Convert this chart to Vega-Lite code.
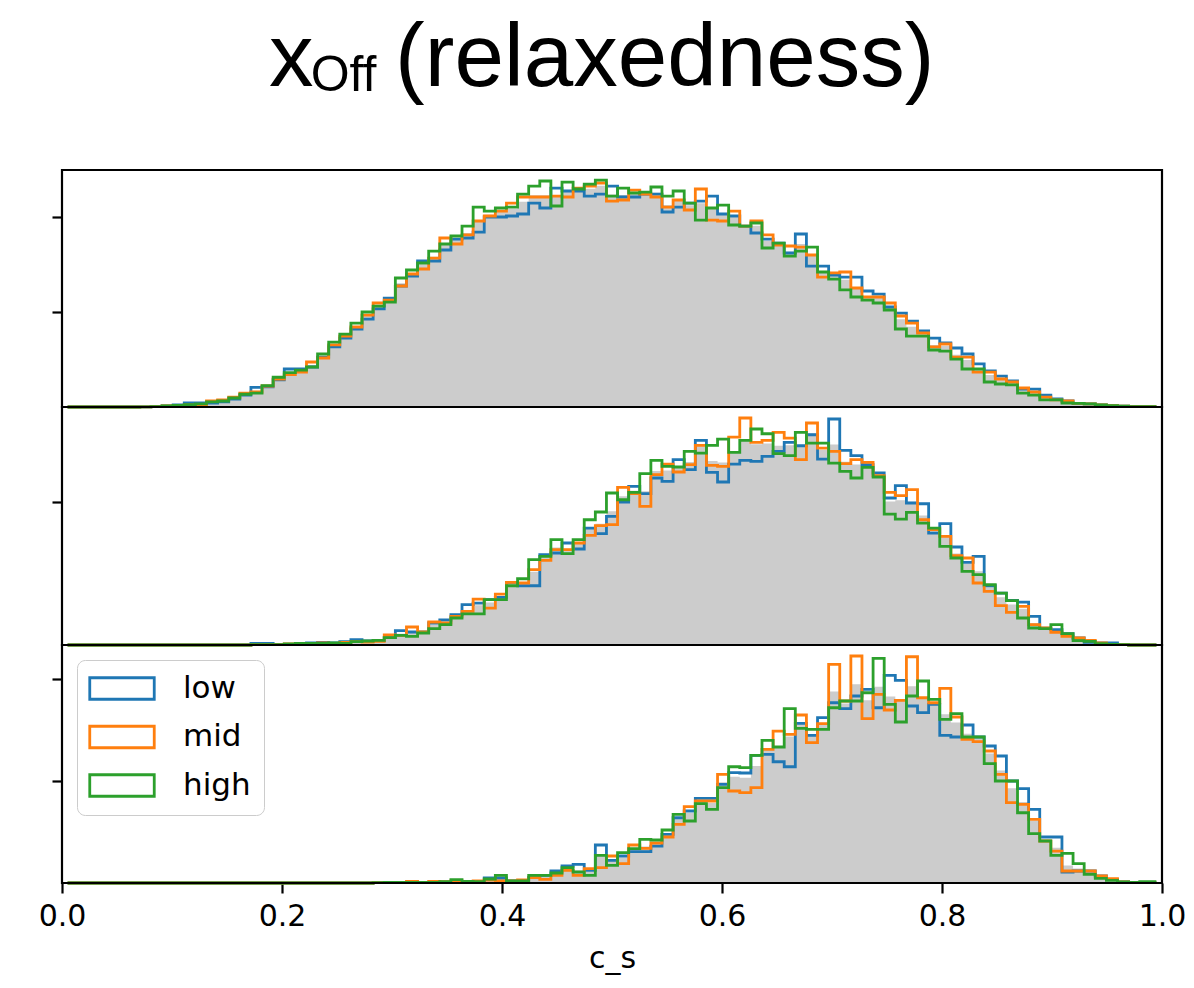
{
  "$schema": "https://vega.github.io/schema/vega-lite/v6.json",
  "padding": {"left": 37, "top": 14, "right": 5, "bottom": 5},
  "background": "white",
  "title": {
    "text": "x\u2002\u2004\u200a(relaxedness)",
    "subtitle": "\u200b\u2002\u2004Off",
    "anchor": "start",
    "frame": "group",
    "align": "left",
    "dx": 207,
    "offset": 64,
    "font": "Liberation Sans",
    "fontSize": 89,
    "fontWeight": "normal",
    "color": "black",
    "subtitleFont": "Liberation Sans",
    "subtitleFontSize": 50,
    "subtitleColor": "black",
    "subtitlePadding": -54
  },
  "datasets": {
    "top": [
      {"c_s":0.0051,"all":0,"low":0,"mid":0,"high":0},
      {"c_s":0.0152,"all":0,"low":0,"mid":0,"high":0},
      {"c_s":0.0253,"all":0,"low":0,"mid":0,"high":0},
      {"c_s":0.0354,"all":0,"low":0,"mid":0,"high":0},
      {"c_s":0.0455,"all":0,"low":0,"mid":0,"high":0},
      {"c_s":0.0556,"all":0,"low":0,"mid":0,"high":0},
      {"c_s":0.0657,"all":0,"low":0,"mid":0,"high":0},
      {"c_s":0.0758,"all":0.002,"low":0.002,"mid":0.002,"high":0.002},
      {"c_s":0.0859,"all":0.005,"low":0.005,"mid":0.005,"high":0.005},
      {"c_s":0.096,"all":0.011,"low":0.011,"mid":0.011,"high":0.011},
      {"c_s":0.1061,"all":0.018,"low":0.021,"mid":0.016,"high":0.016},
      {"c_s":0.1162,"all":0.03,"low":0.042,"mid":0.021,"high":0.026},
      {"c_s":0.1263,"all":0.033,"low":0.042,"mid":0.026,"high":0.032},
      {"c_s":0.1364,"all":0.053,"low":0.042,"mid":0.063,"high":0.053},
      {"c_s":0.1465,"all":0.063,"low":0.053,"mid":0.074,"high":0.063},
      {"c_s":0.1566,"all":0.095,"low":0.084,"mid":0.105,"high":0.095},
      {"c_s":0.1667,"all":0.136,"low":0.126,"mid":0.147,"high":0.134},
      {"c_s":0.1768,"all":0.171,"low":0.207,"mid":0.158,"high":0.147},
      {"c_s":0.1869,"all":0.219,"low":0.211,"mid":0.221,"high":0.224},
      {"c_s":0.197,"all":0.298,"low":0.287,"mid":0.295,"high":0.313},
      {"c_s":0.2071,"all":0.367,"low":0.4,"mid":0.34,"high":0.361},
      {"c_s":0.2172,"all":0.386,"low":0.4,"mid":0.368,"high":0.389},
      {"c_s":0.2273,"all":0.439,"low":0.421,"mid":0.474,"high":0.421},
      {"c_s":0.2374,"all":0.533,"low":0.526,"mid":0.516,"high":0.558},
      {"c_s":0.2475,"all":0.656,"low":0.632,"mid":0.653,"high":0.684},
      {"c_s":0.2576,"all":0.747,"low":0.726,"mid":0.747,"high":0.768},
      {"c_s":0.2677,"all":0.849,"low":0.821,"mid":0.842,"high":0.884},
      {"c_s":0.2778,"all":0.965,"low":0.926,"mid":0.968,"high":1.0},
      {"c_s":0.2879,"all":1.063,"low":1.032,"mid":1.095,"high":1.063},
      {"c_s":0.298,"all":1.126,"low":1.147,"mid":1.126,"high":1.105},
      {"c_s":0.3081,"all":1.302,"low":1.274,"mid":1.274,"high":1.358},
      {"c_s":0.3182,"all":1.407,"low":1.379,"mid":1.4,"high":1.442},
      {"c_s":0.3283,"all":1.502,"low":1.537,"mid":1.453,"high":1.516},
      {"c_s":0.3384,"all":1.582,"low":1.537,"mid":1.568,"high":1.642},
      {"c_s":0.3485,"all":1.716,"low":1.653,"mid":1.779,"high":1.716},
      {"c_s":0.3586,"all":1.761,"low":1.768,"mid":1.716,"high":1.8},
      {"c_s":0.3687,"all":1.832,"low":1.779,"mid":1.811,"high":1.905},
      {"c_s":0.3788,"all":1.968,"low":1.842,"mid":1.958,"high":2.105},
      {"c_s":0.3889,"all":2.025,"low":2.0,"mid":2.011,"high":2.063},
      {"c_s":0.399,"all":2.053,"low":2.0,"mid":2.063,"high":2.095},
      {"c_s":0.4091,"all":2.088,"low":2.011,"mid":2.147,"high":2.105},
      {"c_s":0.4192,"all":2.162,"low":2.032,"mid":2.211,"high":2.242},
      {"c_s":0.4293,"all":2.228,"low":2.147,"mid":2.211,"high":2.326},
      {"c_s":0.4394,"all":2.228,"low":2.095,"mid":2.211,"high":2.379},
      {"c_s":0.4495,"all":2.214,"low":2.305,"mid":2.221,"high":2.116},
      {"c_s":0.4596,"all":2.284,"low":2.274,"mid":2.211,"high":2.368},
      {"c_s":0.4697,"all":2.291,"low":2.274,"mid":2.305,"high":2.295},
      {"c_s":0.4798,"all":2.298,"low":2.221,"mid":2.326,"high":2.347},
      {"c_s":0.4899,"all":2.33,"low":2.242,"mid":2.358,"high":2.389},
      {"c_s":0.5,"all":2.238,"low":2.326,"mid":2.168,"high":2.221},
      {"c_s":0.5101,"all":2.232,"low":2.211,"mid":2.179,"high":2.305},
      {"c_s":0.5202,"all":2.249,"low":2.211,"mid":2.284,"high":2.253},
      {"c_s":0.5303,"all":2.249,"low":2.242,"mid":2.242,"high":2.263},
      {"c_s":0.5404,"all":2.256,"low":2.242,"mid":2.211,"high":2.316},
      {"c_s":0.5505,"all":2.126,"low":2.053,"mid":2.105,"high":2.221},
      {"c_s":0.5606,"all":2.186,"low":2.105,"mid":2.179,"high":2.274},
      {"c_s":0.5707,"all":2.123,"low":2.147,"mid":2.074,"high":2.147},
      {"c_s":0.5808,"all":2.144,"low":2.168,"mid":2.295,"high":1.968},
      {"c_s":0.5909,"all":2.095,"low":2.221,"mid":1.968,"high":2.095},
      {"c_s":0.601,"all":2.039,"low":2.032,"mid":1.958,"high":2.126},
      {"c_s":0.6111,"all":1.997,"low":2.011,"mid":2.063,"high":1.916},
      {"c_s":0.6212,"all":1.905,"low":1.905,"mid":1.905,"high":1.905},
      {"c_s":0.6313,"all":1.909,"low":1.832,"mid":1.958,"high":1.937},
      {"c_s":0.6414,"all":1.751,"low":1.768,"mid":1.811,"high":1.674},
      {"c_s":0.6515,"all":1.719,"low":1.726,"mid":1.705,"high":1.726},
      {"c_s":0.6616,"all":1.635,"low":1.621,"mid":1.695,"high":1.589},
      {"c_s":0.6717,"all":1.716,"low":1.821,"mid":1.684,"high":1.642},
      {"c_s":0.6818,"all":1.589,"low":1.484,"mid":1.6,"high":1.684},
      {"c_s":0.6919,"all":1.425,"low":1.484,"mid":1.368,"high":1.421},
      {"c_s":0.702,"all":1.382,"low":1.389,"mid":1.411,"high":1.347},
      {"c_s":0.7121,"all":1.34,"low":1.368,"mid":1.421,"high":1.232},
      {"c_s":0.7222,"all":1.26,"low":1.368,"mid":1.253,"high":1.158},
      {"c_s":0.7323,"all":1.168,"low":1.221,"mid":1.158,"high":1.126},
      {"c_s":0.7424,"all":1.147,"low":1.189,"mid":1.158,"high":1.095},
      {"c_s":0.7525,"all":1.056,"low":1.053,"mid":1.095,"high":1.021},
      {"c_s":0.7626,"all":0.923,"low":0.989,"mid":0.958,"high":0.821},
      {"c_s":0.7727,"all":0.845,"low":0.905,"mid":0.884,"high":0.747},
      {"c_s":0.7828,"all":0.775,"low":0.8,"mid":0.779,"high":0.747},
      {"c_s":0.7929,"all":0.653,"low":0.726,"mid":0.632,"high":0.6},
      {"c_s":0.803,"all":0.642,"low":0.674,"mid":0.663,"high":0.589},
      {"c_s":0.8131,"all":0.551,"low":0.621,"mid":0.526,"high":0.505},
      {"c_s":0.8232,"all":0.495,"low":0.558,"mid":0.526,"high":0.4},
      {"c_s":0.8333,"all":0.407,"low":0.453,"mid":0.368,"high":0.4},
      {"c_s":0.8434,"all":0.337,"low":0.379,"mid":0.368,"high":0.263},
      {"c_s":0.8535,"all":0.288,"low":0.326,"mid":0.295,"high":0.242},
      {"c_s":0.8636,"all":0.256,"low":0.274,"mid":0.263,"high":0.232},
      {"c_s":0.8737,"all":0.179,"low":0.189,"mid":0.2,"high":0.147},
      {"c_s":0.8838,"all":0.158,"low":0.189,"mid":0.158,"high":0.126},
      {"c_s":0.8939,"all":0.102,"low":0.126,"mid":0.105,"high":0.074},
      {"c_s":0.904,"all":0.077,"low":0.084,"mid":0.074,"high":0.074},
      {"c_s":0.9141,"all":0.056,"low":0.063,"mid":0.063,"high":0.042},
      {"c_s":0.9242,"all":0.039,"low":0.039,"mid":0.039,"high":0.039},
      {"c_s":0.9343,"all":0.032,"low":0.032,"mid":0.032,"high":0.032},
      {"c_s":0.9444,"all":0.021,"low":0.021,"mid":0.021,"high":0.021},
      {"c_s":0.9545,"all":0.014,"low":0.014,"mid":0.014,"high":0.014},
      {"c_s":0.9646,"all":0.008,"low":0.008,"mid":0.008,"high":0.008},
      {"c_s":0.9747,"all":0.005,"low":0.005,"mid":0.005,"high":0.005},
      {"c_s":0.9848,"all":0.005,"low":0.005,"mid":0.005,"high":0.005},
      {"c_s":0.9949,"all":0.003,"low":0.003,"mid":0.003,"high":0.003}
    ],
    "middle": [
      {"c_s":0.0051,"all":0,"low":0,"mid":0,"high":0},
      {"c_s":0.0152,"all":0,"low":0,"mid":0,"high":0},
      {"c_s":0.0253,"all":0,"low":0,"mid":0,"high":0},
      {"c_s":0.0354,"all":0,"low":0,"mid":0,"high":0},
      {"c_s":0.0455,"all":0,"low":0,"mid":0,"high":0},
      {"c_s":0.0556,"all":0,"low":0,"mid":0,"high":0},
      {"c_s":0.0657,"all":0,"low":0,"mid":0,"high":0},
      {"c_s":0.0758,"all":0,"low":0,"mid":0,"high":0},
      {"c_s":0.0859,"all":0,"low":0,"mid":0,"high":0},
      {"c_s":0.096,"all":0,"low":0,"mid":0,"high":0},
      {"c_s":0.1061,"all":0,"low":0,"mid":0,"high":0},
      {"c_s":0.1162,"all":0,"low":0,"mid":0,"high":0},
      {"c_s":0.1263,"all":0,"low":0,"mid":0,"high":0},
      {"c_s":0.1364,"all":0,"low":0,"mid":0,"high":0},
      {"c_s":0.1465,"all":0,"low":0,"mid":0,"high":0},
      {"c_s":0.1566,"all":0,"low":0,"mid":0,"high":0},
      {"c_s":0.1667,"all":0,"low":0,"mid":0,"high":0},
      {"c_s":0.1768,"all":0.01,"low":0.021,"mid":0.004,"high":0.004},
      {"c_s":0.1869,"all":0.01,"low":0.021,"mid":0.004,"high":0.004},
      {"c_s":0.197,"all":0.004,"low":0.004,"mid":0.004,"high":0.004},
      {"c_s":0.2071,"all":0.012,"low":0.007,"mid":0.014,"high":0.014},
      {"c_s":0.2172,"all":0.021,"low":0.014,"mid":0.024,"high":0.024},
      {"c_s":0.2273,"all":0.025,"low":0.028,"mid":0.024,"high":0.024},
      {"c_s":0.2374,"all":0.029,"low":0.038,"mid":0.028,"high":0.021},
      {"c_s":0.2475,"all":0.026,"low":0.028,"mid":0.021,"high":0.028},
      {"c_s":0.2576,"all":0.034,"low":0.046,"mid":0.035,"high":0.021},
      {"c_s":0.2677,"all":0.055,"low":0.074,"mid":0.046,"high":0.046},
      {"c_s":0.2778,"all":0.051,"low":0.056,"mid":0.042,"high":0.056},
      {"c_s":0.2879,"all":0.06,"low":0.063,"mid":0.052,"high":0.066},
      {"c_s":0.298,"all":0.115,"low":0.102,"mid":0.14,"high":0.102},
      {"c_s":0.3081,"all":0.157,"low":0.2,"mid":0.136,"high":0.136},
      {"c_s":0.3182,"all":0.185,"low":0.182,"mid":0.252,"high":0.122},
      {"c_s":0.3283,"all":0.177,"low":0.182,"mid":0.182,"high":0.168},
      {"c_s":0.3384,"all":0.286,"low":0.308,"mid":0.322,"high":0.228},
      {"c_s":0.3485,"all":0.314,"low":0.35,"mid":0.308,"high":0.284},
      {"c_s":0.3586,"all":0.401,"low":0.424,"mid":0.401,"high":0.378},
      {"c_s":0.3687,"all":0.49,"low":0.564,"mid":0.471,"high":0.434},
      {"c_s":0.3788,"all":0.555,"low":0.587,"mid":0.643,"high":0.434},
      {"c_s":0.3889,"all":0.595,"low":0.634,"mid":0.517,"high":0.634},
      {"c_s":0.399,"all":0.671,"low":0.667,"mid":0.713,"high":0.634},
      {"c_s":0.4091,"all":0.861,"low":0.877,"mid":0.877,"high":0.829},
      {"c_s":0.4192,"all":0.874,"low":0.829,"mid":0.867,"high":0.927},
      {"c_s":0.4293,"all":1.025,"low":0.829,"mid":1.053,"high":1.193},
      {"c_s":0.4394,"all":1.23,"low":1.263,"mid":1.185,"high":1.241},
      {"c_s":0.4495,"all":1.364,"low":1.287,"mid":1.333,"high":1.473},
      {"c_s":0.4596,"all":1.346,"low":1.427,"mid":1.333,"high":1.277},
      {"c_s":0.4697,"all":1.414,"low":1.343,"mid":1.427,"high":1.473},
      {"c_s":0.4798,"all":1.641,"low":1.636,"mid":1.534,"high":1.752},
      {"c_s":0.4899,"all":1.695,"low":1.557,"mid":1.669,"high":1.86},
      {"c_s":0.5,"all":1.87,"low":1.8,"mid":1.683,"high":2.126},
      {"c_s":0.5101,"all":2.079,"low":2.0,"mid":2.206,"high":2.032},
      {"c_s":0.5202,"all":2.157,"low":2.22,"mid":2.116,"high":2.136},
      {"c_s":0.5303,"all":2.151,"low":2.116,"mid":1.94,"high":2.396},
      {"c_s":0.5404,"all":2.434,"low":2.336,"mid":2.382,"high":2.583},
      {"c_s":0.5505,"all":2.44,"low":2.29,"mid":2.531,"high":2.499},
      {"c_s":0.5606,"all":2.5,"low":2.592,"mid":2.42,"high":2.49},
      {"c_s":0.5707,"all":2.561,"low":2.452,"mid":2.522,"high":2.709},
      {"c_s":0.5808,"all":2.78,"low":2.863,"mid":2.793,"high":2.685},
      {"c_s":0.5909,"all":2.574,"low":2.415,"mid":2.513,"high":2.793},
      {"c_s":0.601,"all":2.553,"low":2.28,"mid":2.499,"high":2.881},
      {"c_s":0.6111,"all":2.712,"low":2.531,"mid":2.909,"high":2.695},
      {"c_s":0.6212,"all":2.874,"low":2.583,"mid":3.175,"high":2.863},
      {"c_s":0.6313,"all":2.808,"low":2.569,"mid":2.835,"high":3.021},
      {"c_s":0.6414,"all":2.819,"low":2.639,"mid":2.863,"high":2.955},
      {"c_s":0.6515,"all":2.787,"low":2.709,"mid":2.975,"high":2.676},
      {"c_s":0.6616,"all":2.793,"low":2.835,"mid":2.895,"high":2.648},
      {"c_s":0.6717,"all":2.785,"low":2.787,"mid":2.592,"high":2.975},
      {"c_s":0.6818,"all":2.957,"low":2.941,"mid":3.105,"high":2.825},
      {"c_s":0.6919,"all":2.727,"low":2.601,"mid":2.755,"high":2.825},
      {"c_s":0.702,"all":2.805,"low":3.161,"mid":2.709,"high":2.545},
      {"c_s":0.7121,"all":2.563,"low":2.723,"mid":2.536,"high":2.429},
      {"c_s":0.7222,"all":2.525,"low":2.648,"mid":2.592,"high":2.336},
      {"c_s":0.7323,"all":2.521,"low":2.522,"mid":2.555,"high":2.485},
      {"c_s":0.7424,"all":2.375,"low":2.406,"mid":2.368,"high":2.35},
      {"c_s":0.7525,"all":2.008,"low":2.056,"mid":2.136,"high":1.832},
      {"c_s":0.7626,"all":2.026,"low":2.228,"mid":2.088,"high":1.762},
      {"c_s":0.7727,"all":2.005,"low":1.986,"mid":2.172,"high":1.856},
      {"c_s":0.7828,"all":1.811,"low":1.976,"mid":1.752,"high":1.706},
      {"c_s":0.7929,"all":1.605,"low":1.566,"mid":1.613,"high":1.636},
      {"c_s":0.803,"all":1.532,"low":1.697,"mid":1.52,"high":1.38},
      {"c_s":0.8131,"all":1.279,"low":1.371,"mid":1.249,"high":1.217},
      {"c_s":0.8232,"all":1.135,"low":1.157,"mid":1.217,"high":1.031},
      {"c_s":0.8333,"all":1.03,"low":1.241,"mid":0.867,"high":0.983},
      {"c_s":0.8434,"all":0.808,"low":0.829,"mid":0.751,"high":0.843},
      {"c_s":0.8535,"all":0.668,"low":0.727,"mid":0.55,"high":0.727},
      {"c_s":0.8636,"all":0.567,"low":0.625,"mid":0.457,"high":0.62},
      {"c_s":0.8737,"all":0.507,"low":0.601,"mid":0.541,"high":0.378},
      {"c_s":0.8838,"all":0.308,"low":0.401,"mid":0.284,"high":0.238},
      {"c_s":0.8939,"all":0.233,"low":0.234,"mid":0.238,"high":0.228},
      {"c_s":0.904,"all":0.225,"low":0.214,"mid":0.178,"high":0.284},
      {"c_s":0.9141,"all":0.146,"low":0.158,"mid":0.122,"high":0.158},
      {"c_s":0.9242,"all":0.085,"low":0.098,"mid":0.098,"high":0.06},
      {"c_s":0.9343,"all":0.052,"low":0.038,"mid":0.066,"high":0.052},
      {"c_s":0.9444,"all":0.025,"low":0.028,"mid":0.028,"high":0.018},
      {"c_s":0.9545,"all":0.014,"low":0.028,"mid":0.007,"high":0.007},
      {"c_s":0.9646,"all":0.004,"low":0.004,"mid":0.004,"high":0.004},
      {"c_s":0.9747,"all":0,"low":0,"mid":0,"high":0},
      {"c_s":0.9848,"all":0,"low":0,"mid":0,"high":0},
      {"c_s":0.9949,"all":0,"low":0,"mid":0,"high":0}
    ],
    "bottom": [
      {"c_s":0.0051,"all":0,"low":0,"mid":0,"high":0},
      {"c_s":0.0152,"all":0,"low":0,"mid":0,"high":0},
      {"c_s":0.0253,"all":0,"low":0,"mid":0,"high":0},
      {"c_s":0.0354,"all":0,"low":0,"mid":0,"high":0},
      {"c_s":0.0455,"all":0,"low":0,"mid":0,"high":0},
      {"c_s":0.0556,"all":0,"low":0,"mid":0,"high":0},
      {"c_s":0.0657,"all":0,"low":0,"mid":0,"high":0},
      {"c_s":0.0758,"all":0,"low":0,"mid":0,"high":0},
      {"c_s":0.0859,"all":0,"low":0,"mid":0,"high":0},
      {"c_s":0.096,"all":0,"low":0,"mid":0,"high":0},
      {"c_s":0.1061,"all":0,"low":0,"mid":0,"high":0},
      {"c_s":0.1162,"all":0,"low":0,"mid":0,"high":0},
      {"c_s":0.1263,"all":0,"low":0,"mid":0,"high":0},
      {"c_s":0.1364,"all":0,"low":0,"mid":0,"high":0},
      {"c_s":0.1465,"all":0,"low":0,"mid":0,"high":0},
      {"c_s":0.1566,"all":0,"low":0,"mid":0,"high":0},
      {"c_s":0.1667,"all":0,"low":0,"mid":0,"high":0},
      {"c_s":0.1768,"all":0,"low":0,"mid":0,"high":0},
      {"c_s":0.1869,"all":0,"low":0,"mid":0,"high":0},
      {"c_s":0.197,"all":0,"low":0,"mid":0,"high":0},
      {"c_s":0.2071,"all":0,"low":0,"mid":0,"high":0},
      {"c_s":0.2172,"all":0,"low":0,"mid":0,"high":0},
      {"c_s":0.2273,"all":0,"low":0,"mid":0,"high":0},
      {"c_s":0.2374,"all":0,"low":0,"mid":0,"high":0},
      {"c_s":0.2475,"all":0,"low":0,"mid":0,"high":0},
      {"c_s":0.2576,"all":0,"low":0,"mid":0,"high":0},
      {"c_s":0.2677,"all":0,"low":0,"mid":0,"high":0},
      {"c_s":0.2778,"all":0,"low":0,"mid":0,"high":0},
      {"c_s":0.2879,"all":0.006,"low":0.006,"mid":0.006,"high":0.006},
      {"c_s":0.298,"all":0.01,"low":0.01,"mid":0.01,"high":0.01},
      {"c_s":0.3081,"all":0.01,"low":0.01,"mid":0.01,"high":0.01},
      {"c_s":0.3182,"all":0.018,"low":0.01,"mid":0.033,"high":0.01},
      {"c_s":0.3283,"all":0.01,"low":0.01,"mid":0.01,"high":0.01},
      {"c_s":0.3384,"all":0.018,"low":0.01,"mid":0.033,"high":0.01},
      {"c_s":0.3485,"all":0.02,"low":0.01,"mid":0.025,"high":0.025},
      {"c_s":0.3586,"all":0.041,"low":0.02,"mid":0.039,"high":0.065},
      {"c_s":0.3687,"all":0.026,"low":0.02,"mid":0.025,"high":0.033},
      {"c_s":0.3788,"all":0.03,"low":0.025,"mid":0.039,"high":0.025},
      {"c_s":0.3889,"all":0.078,"low":0.098,"mid":0.059,"high":0.078},
      {"c_s":0.399,"all":0.096,"low":0.098,"mid":0.039,"high":0.151},
      {"c_s":0.4091,"all":0.039,"low":0.039,"mid":0.039,"high":0.039},
      {"c_s":0.4192,"all":0.046,"low":0.039,"mid":0.059,"high":0.039},
      {"c_s":0.4293,"all":0.12,"low":0.104,"mid":0.104,"high":0.151},
      {"c_s":0.4394,"all":0.125,"low":0.151,"mid":0.073,"high":0.151},
      {"c_s":0.4495,"all":0.194,"low":0.235,"mid":0.151,"high":0.196},
      {"c_s":0.4596,"all":0.294,"low":0.333,"mid":0.249,"high":0.3},
      {"c_s":0.4697,"all":0.245,"low":0.367,"mid":0.151,"high":0.216},
      {"c_s":0.4798,"all":0.227,"low":0.249,"mid":0.28,"high":0.151},
      {"c_s":0.4899,"all":0.529,"low":0.745,"mid":0.3,"high":0.543},
      {"c_s":0.5,"all":0.44,"low":0.445,"mid":0.529,"high":0.347},
      {"c_s":0.5101,"all":0.5,"low":0.529,"mid":0.378,"high":0.594},
      {"c_s":0.5202,"all":0.677,"low":0.614,"mid":0.745,"high":0.673},
      {"c_s":0.5303,"all":0.717,"low":0.614,"mid":0.68,"high":0.857},
      {"c_s":0.5404,"all":0.784,"low":0.725,"mid":0.784,"high":0.843},
      {"c_s":0.5505,"all":0.965,"low":0.955,"mid":0.902,"high":1.039},
      {"c_s":0.5606,"all":1.259,"low":1.28,"mid":1.151,"high":1.347},
      {"c_s":0.5707,"all":1.375,"low":1.412,"mid":1.496,"high":1.216},
      {"c_s":0.5808,"all":1.608,"low":1.661,"mid":1.608,"high":1.555},
      {"c_s":0.5909,"all":1.571,"low":1.661,"mid":1.608,"high":1.445},
      {"c_s":0.601,"all":1.978,"low":1.935,"mid":2.131,"high":1.869},
      {"c_s":0.6111,"all":2.082,"low":2.163,"mid":1.804,"high":2.28},
      {"c_s":0.6212,"all":2.063,"low":2.157,"mid":1.771,"high":2.261},
      {"c_s":0.6313,"all":2.292,"low":2.504,"mid":1.869,"high":2.504},
      {"c_s":0.6414,"all":2.648,"low":2.524,"mid":2.622,"high":2.798},
      {"c_s":0.6515,"all":2.675,"low":2.378,"mid":2.98,"high":2.667},
      {"c_s":0.6616,"all":2.871,"low":2.28,"mid":2.916,"high":3.418},
      {"c_s":0.6717,"all":3.153,"low":3.131,"mid":3.294,"high":3.033},
      {"c_s":0.6818,"all":2.887,"low":2.896,"mid":2.751,"high":3.014},
      {"c_s":0.6919,"all":3.126,"low":3.241,"mid":3.124,"high":3.014},
      {"c_s":0.702,"all":3.753,"low":3.535,"mid":4.288,"high":3.437},
      {"c_s":0.7121,"all":3.519,"low":3.418,"mid":3.569,"high":3.569},
      {"c_s":0.7222,"all":3.896,"low":3.667,"mid":4.451,"high":3.569},
      {"c_s":0.7323,"all":3.584,"low":3.798,"mid":3.222,"high":3.731},
      {"c_s":0.7424,"all":3.848,"low":3.437,"mid":3.7,"high":4.406},
      {"c_s":0.7525,"all":3.656,"low":4.073,"mid":3.392,"high":3.504},
      {"c_s":0.7626,"all":3.571,"low":3.975,"mid":3.582,"high":3.157},
      {"c_s":0.7727,"all":3.858,"low":3.471,"mid":4.437,"high":3.667},
      {"c_s":0.7828,"all":3.644,"low":3.339,"mid":3.633,"high":3.961},
      {"c_s":0.7929,"all":3.547,"low":3.504,"mid":3.535,"high":3.602},
      {"c_s":0.803,"all":3.308,"low":2.896,"mid":3.818,"high":3.21},
      {"c_s":0.8131,"all":3.146,"low":2.863,"mid":3.255,"high":3.32},
      {"c_s":0.8232,"all":2.926,"low":3.098,"mid":2.818,"high":2.863},
      {"c_s":0.8333,"all":2.832,"low":2.863,"mid":2.771,"high":2.863},
      {"c_s":0.8434,"all":2.538,"low":2.686,"mid":2.588,"high":2.339},
      {"c_s":0.8535,"all":2.207,"low":2.49,"mid":2.131,"high":2.0},
      {"c_s":0.8636,"all":1.858,"low":2.0,"mid":1.575,"high":2.0},
      {"c_s":0.8737,"all":1.59,"low":1.849,"mid":1.543,"high":1.378},
      {"c_s":0.8838,"all":1.22,"low":1.445,"mid":1.249,"high":0.967},
      {"c_s":0.8939,"all":0.85,"low":0.902,"mid":0.824,"high":0.824},
      {"c_s":0.904,"all":0.691,"low":0.902,"mid":0.627,"high":0.543},
      {"c_s":0.9141,"all":0.344,"low":0.216,"mid":0.235,"high":0.582},
      {"c_s":0.9242,"all":0.283,"low":0.235,"mid":0.235,"high":0.378},
      {"c_s":0.9343,"all":0.214,"low":0.235,"mid":0.235,"high":0.171},
      {"c_s":0.9444,"all":0.122,"low":0.137,"mid":0.137,"high":0.092},
      {"c_s":0.9545,"all":0.07,"low":0.073,"mid":0.084,"high":0.053},
      {"c_s":0.9646,"all":0.02,"low":0.02,"mid":0.02,"high":0.02},
      {"c_s":0.9747,"all":0.01,"low":0.01,"mid":0.01,"high":0.01},
      {"c_s":0.9848,"all":0.015,"low":0.01,"mid":0.01,"high":0.025},
      {"c_s":0.9949,"all":0.012,"low":0.006,"mid":0.006,"high":0.025}
    ]
  },
  "spacing": 0,
  "bounds": "flush",
  "vconcat": [
    {
      "width": 1100,
      "height": 237,
      "data": {"name": "top"},
      "layer": [
        {
          "mark": {"type": "area", "interpolate": "step", "color": "#cccccc", "opacity": 1},
          "encoding": {
            "x": {"field": "c_s", "type": "quantitative", "scale": {"domain": [0, 1], "nice": false}, "axis": null},
            "y": {"field": "all", "type": "quantitative", "scale": {"domain": [0, 2.495], "nice": false}, "axis": {"values": [1, 2], "labels": false, "title": null}}
          }
        },
        {
          "transform": [{"fold": ["low", "mid", "high"], "as": ["group", "density"]}],
          "mark": {"type": "line", "interpolate": "step", "strokeWidth": 2.8, "opacity": 1},
          "encoding": {
            "x": {"field": "c_s", "type": "quantitative", "axis": null},
            "y": {"field": "density", "type": "quantitative", "axis": {"values": [1, 2], "labels": false, "title": null}},
            "color": {"field": "group", "type": "nominal", "scale": {"domain": ["low", "mid", "high"], "range": ["#1f77b4", "#ff7f0e", "#2ca02c"]}, "legend": null}
          }
        },
        {
          "mark": {"type": "rule", "color": "black", "strokeWidth": 2.2},
          "encoding": {"y": {"datum": 0, "axis": {"values": [1, 2], "labels": false, "title": null}}}
        }
      ]
    },
    {
      "width": 1100,
      "height": 238,
      "data": {"name": "middle"},
      "layer": [
        {
          "mark": {"type": "area", "interpolate": "step", "color": "#cccccc", "opacity": 1},
          "encoding": {
            "x": {"field": "c_s", "type": "quantitative", "scale": {"domain": [0, 1], "nice": false}, "axis": null},
            "y": {"field": "all", "type": "quantitative", "scale": {"domain": [0, 3.329], "nice": false}, "axis": {"values": [2], "labels": false, "title": null}}
          }
        },
        {
          "transform": [{"fold": ["low", "mid", "high"], "as": ["group", "density"]}],
          "mark": {"type": "line", "interpolate": "step", "strokeWidth": 2.8, "opacity": 1},
          "encoding": {
            "x": {"field": "c_s", "type": "quantitative", "axis": null},
            "y": {"field": "density", "type": "quantitative", "axis": {"values": [2], "labels": false, "title": null}},
            "color": {"field": "group", "type": "nominal", "scale": {"domain": ["low", "mid", "high"], "range": ["#1f77b4", "#ff7f0e", "#2ca02c"]}, "legend": null}
          }
        },
        {
          "mark": {"type": "rule", "color": "black", "strokeWidth": 2.2},
          "encoding": {"y": {"datum": 0, "axis": {"values": [2], "labels": false, "title": null}}}
        }
      ]
    },
    {
      "width": 1100,
      "height": 238,
      "data": {"name": "bottom"},
      "layer": [
        {
          "mark": {"type": "area", "interpolate": "step", "color": "#cccccc", "opacity": 1},
          "encoding": {
            "x": {"field": "c_s", "type": "quantitative", "scale": {"domain": [0, 1], "nice": false}, "axis": {"values": [0, 0.2, 0.4, 0.6, 0.8, 1.0], "format": ".1f", "title": "c_s", "labelFlush": false, "labelPadding": 8, "titlePadding": 12}},
            "y": {"field": "all", "type": "quantitative", "scale": {"domain": [0, 4.667], "nice": false}, "axis": {"values": [2, 4], "labels": false, "title": null}}
          }
        },
        {
          "transform": [{"fold": ["low", "mid", "high"], "as": ["group", "density"]}],
          "mark": {"type": "line", "interpolate": "step", "strokeWidth": 2.8, "opacity": 1},
          "encoding": {
            "x": {"field": "c_s", "type": "quantitative", "axis": {"values": [0, 0.2, 0.4, 0.6, 0.8, 1.0], "format": ".1f", "title": "c_s", "labelFlush": false, "labelPadding": 8, "titlePadding": 12}},
            "y": {"field": "density", "type": "quantitative", "axis": {"values": [2, 4], "labels": false, "title": null}},
            "color": {
              "field": "group",
              "type": "nominal",
              "scale": {"domain": ["low", "mid", "high"], "range": ["#1f77b4", "#ff7f0e", "#2ca02c"]},
              "legend": {
                "orient": "top-left",
                "offset": 15,
                "title": null,
                "symbolType": "M-3,-1L3,-1L3,1L-3,1Z",
                "symbolSize": 462,
                "symbolStrokeWidth": 2.8,
                "symbolFillColor": "transparent",
                "symbolOffset": 16.5,
                "labelOffset": 45.5,
                "labelFont": "DejaVu Sans",
                "labelFontSize": 31,
                "labelColor": "black",
                "padding": 13,
                "rowPadding": 15.5,
                "strokeColor": "#cccccc",
                "fillColor": "white",
                "cornerRadius": 8,
                "encode": {"legend": {"update": {"strokeWidth": {"value": 2.2}}}}
              }
            }
          }
        },
        {
          "mark": {"type": "rule", "color": "black", "strokeWidth": 2.2},
          "encoding": {"y": {"datum": 0, "axis": {"values": [2, 4], "labels": false, "title": null}}}
        }
      ]
    }
  ],
  "resolve": {"scale": {"y": "independent", "color": "independent"}, "legend": {"color": "independent"}},
  "config": {
    "font": "DejaVu Sans",
    "view": {"stroke": "black", "strokeWidth": 2.2},
    "axis": {
      "domain": false,
      "grid": false,
      "tickColor": "black",
      "tickWidth": 2.2,
      "tickSize": 10,
      "labelFont": "DejaVu Sans",
      "labelFontSize": 30,
      "labelColor": "black",
      "titleFont": "DejaVu Sans",
      "titleFontSize": 30,
      "titleFontWeight": "normal",
      "titleColor": "black"
    }
  }
}
